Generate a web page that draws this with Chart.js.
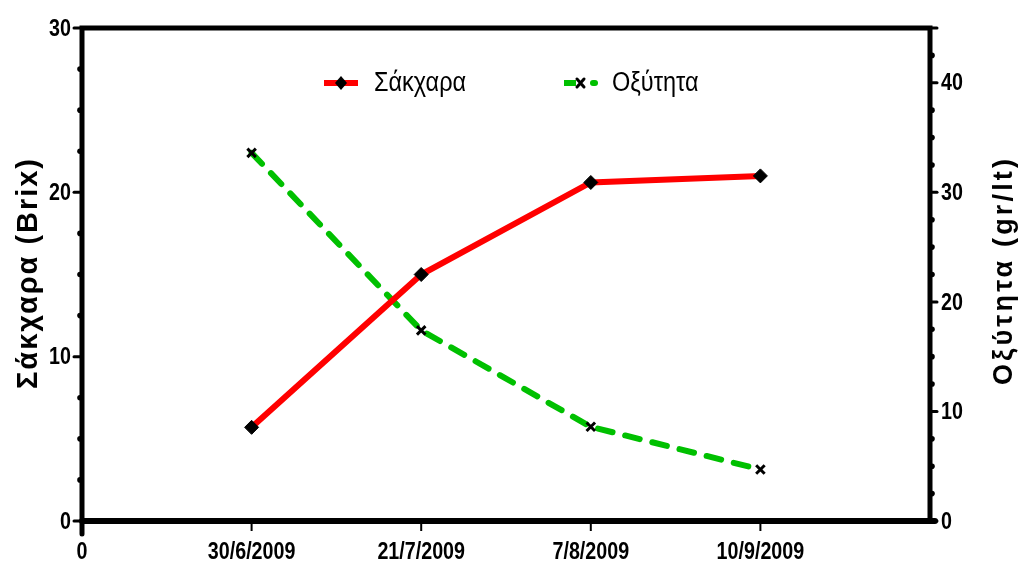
<!DOCTYPE html>
<html>
<head>
<meta charset="utf-8">
<script src="https://cdn.jsdelivr.net/npm/chart.js@4"></script>
<style>
  html, body { margin: 0; padding: 0; background: #fff; }
  #wrap { width: 1026px; height: 567px; }
</style>
</head>
<body>
<div id="wrap"><canvas id="chart" width="1026" height="567"></canvas></div>
<script>
const dates = ['0', '30/6/2009', '21/7/2009', '7/8/2009', '10/9/2009', ''];
const xPos = [1, 2, 3, 4];
const sugar = [5.7, 15.0, 20.6, 21.0];
const acidity = [33.6, 17.4, 8.6, 4.7];
const sugarTicks = [0, 10, 20, 30];
const acidTicks = [0, 10, 20, 30, 40];
const seriesNames = ['Σάκχαρα', 'Οξύτητα'];
const axisTitles = ['Σάκχαρα (Brix)', 'Οξύτητα (gr/lt)'];

// narrow text helper (reference uses a condensed Arial)
function narrowText(ctx, text, x, y, align, sx) {
  ctx.save();
  ctx.translate(x, y);
  ctx.scale(sx, 1);
  ctx.textAlign = align;
  ctx.fillText(text, 0, 0);
  ctx.restore();
}

function spacedTitle(ctx, text, cx, cy, length) {
  ctx.save();
  ctx.letterSpacing = '0px';
  const w = ctx.measureText(text).width;
  const ls = (length - w) / text.length;
  ctx.letterSpacing = ls + 'px';
  ctx.translate(cx, cy);
  ctx.rotate(-Math.PI / 2);
  ctx.textAlign = 'center';
  ctx.fillText(text, ls / 2, 0);
  ctx.restore();
}

const frame = {
  id: 'frame',
  afterDraw(chart) {
    const ctx = chart.ctx;
    const { left, right, top, bottom } = chart.chartArea;
    const yL = chart.scales.y, yR = chart.scales.y1, x = chart.scales.x;
    ctx.save();
    ctx.strokeStyle = '#000';
    ctx.fillStyle = '#000';
    ctx.lineCap = 'round';

    // box
    ctx.lineWidth = 5;
    ctx.beginPath();
    ctx.moveTo(left, bottom + 13); ctx.lineTo(left, top);
    ctx.lineTo(right, top); ctx.lineTo(right, bottom);
    ctx.stroke();
    ctx.lineWidth = 6;
    ctx.beginPath();
    ctx.moveTo(left, bottom); ctx.lineTo(right + 5, bottom);
    ctx.stroke();

    // left ticks
    for (let v = 0; v <= 30; v += 2.5) {
      const py = yL.getPixelForValue(v);
      if (v % 10 === 0) {
        ctx.lineWidth = 3;
        ctx.beginPath(); ctx.moveTo(left, py); ctx.lineTo(left - 8, py); ctx.stroke();
      } else {
        ctx.beginPath(); ctx.arc(left - 2, py, 2.8, 0, Math.PI * 2); ctx.fill();
      }
    }
    // right ticks
    for (let v = 0; v <= 45; v += 2.5) {
      const py = yR.getPixelForValue(v);
      if (v % 10 === 0 || v === 45) {
        ctx.lineWidth = 3;
        ctx.beginPath(); ctx.moveTo(right, py); ctx.lineTo(right + 7, py); ctx.stroke();
      } else {
        ctx.beginPath(); ctx.arc(right + 2, py, 2.8, 0, Math.PI * 2); ctx.fill();
      }
    }
    // x ticks
    ctx.lineWidth = 2;
    ctx.lineCap = 'butt';
    xPos.forEach(v => {
      const px = x.getPixelForValue(v);
      ctx.beginPath(); ctx.moveTo(px, bottom); ctx.lineTo(px, bottom + 10); ctx.stroke();
    });

    // tick labels
    ctx.font = 'bold 24px "Liberation Sans", Arial';
    ctx.textBaseline = 'middle';
    sugarTicks.forEach(v => narrowText(ctx, String(v), left - 11, yL.getPixelForValue(v) + 1, 'right', 0.82));
    acidTicks.forEach(v => narrowText(ctx, String(v), right + 11, yR.getPixelForValue(v) + 1, 'left', 0.82));
    dates.forEach((d, i) => { if (d) narrowText(ctx, d, x.getPixelForValue(i), bottom + 31, 'center', 0.82); });

    // axis titles
    ctx.font = 'bold 29px "Liberation Sans", Arial';
    spacedTitle(ctx, axisTitles[0], 29, 274, 232);
    ctx.font = 'bold 27px "Liberation Sans", Arial';
    spacedTitle(ctx, axisTitles[1], 1005, 272, 229);

    // legend
    const ly = 83;
    const ds0 = chart.data.datasets[0], ds1 = chart.data.datasets[1];
    ctx.lineCap = 'butt';
    ctx.strokeStyle = ds0.borderColor; ctx.lineWidth = 6;
    ctx.beginPath(); ctx.moveTo(324, ly); ctx.lineTo(358, ly); ctx.stroke();
    ctx.fillStyle = '#000';
    ctx.beginPath();
    ctx.moveTo(341, ly - 7); ctx.lineTo(347, ly); ctx.lineTo(341, ly + 7); ctx.lineTo(335, ly);
    ctx.closePath(); ctx.fill();
    ctx.strokeStyle = ds1.borderColor;
    ctx.beginPath(); ctx.moveTo(564, ly); ctx.lineTo(576, ly); ctx.stroke();
    ctx.lineCap = 'round';
    ctx.beginPath(); ctx.moveTo(593, ly); ctx.lineTo(595, ly); ctx.stroke();
    ctx.strokeStyle = '#000'; ctx.lineWidth = 3;
    ctx.beginPath();
    ctx.moveTo(577, ly - 4); ctx.lineTo(584, ly + 4);
    ctx.moveTo(584, ly - 4); ctx.lineTo(577, ly + 4);
    ctx.stroke();
    ctx.fillStyle = '#000';
    ctx.font = '27px "Liberation Sans", Arial';
    narrowText(ctx, seriesNames[0], 374, ly + 1, 'left', 0.87);
    narrowText(ctx, seriesNames[1], 612, ly + 1, 'left', 0.87);
    ctx.restore();
  }
};

new Chart(document.getElementById('chart').getContext('2d'), {
  type: 'line',
  data: {
    datasets: [{
      label: seriesNames[0],
      data: xPos.map((v, i) => ({ x: v, y: sugar[i] })),
      yAxisID: 'y',
      borderColor: '#ff0000',
      borderWidth: 6,
      pointStyle: 'rectRot',
      pointRadius: 7,
      pointBackgroundColor: '#000',
      pointBorderColor: '#000',
      pointBorderWidth: 1
    }, {
      label: seriesNames[1],
      data: xPos.map((v, i) => ({ x: v, y: acidity[i] })),
      yAxisID: 'y1',
      borderColor: '#00c000',
      borderWidth: 6,
      borderDash: [15, 13],
      borderCapStyle: 'round',
      pointStyle: 'crossRot',
      pointRadius: 6,
      pointBorderColor: '#000',
      pointBorderWidth: 3
    }]
  },
  options: {
    responsive: false,
    animation: false,
    layout: { padding: { top: 28, left: 0, right: 0, bottom: 0 } },
    plugins: { legend: { display: false }, tooltip: { enabled: false } },
    scales: {
      x: {
        type: 'linear', min: 0, max: 5,
        grid: { display: false, drawTicks: false }, border: { display: false },
        ticks: { stepSize: 1, display: false },
        afterFit: s => { s.height = 46; }
      },
      y: {
        position: 'left', min: 0, max: 30,
        grid: { display: false, drawTicks: false }, border: { display: false },
        ticks: { stepSize: 10, display: false },
        afterFit: s => { s.width = 82; }
      },
      y1: {
        position: 'right', min: 0, max: 45,
        grid: { display: false, drawTicks: false }, border: { display: false },
        ticks: { stepSize: 10, display: false },
        afterFit: s => { s.width = 96; }
      }
    }
  },
  plugins: [frame]
});
</script>
</body>
</html>
